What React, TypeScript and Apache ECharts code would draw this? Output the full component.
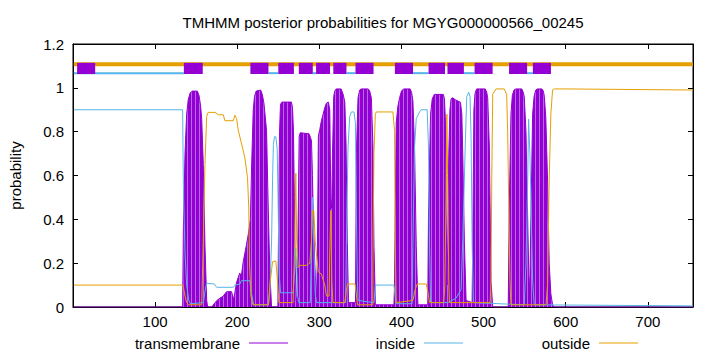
import React, { useEffect, useRef } from "react";
import * as echarts from "echarts";

const FONT = "'Liberation Sans', Arial, sans-serif";
const chartTitle = "TMHMM posterior probabilities for MGYG000000566_00245";
const yAxisName = "probability";
const seqLength = 755;
const xTickInterval = 100;
const yMax = 1.2;
const yTickInterval = 0.2;

const legendNames = ["transmembrane", "inside", "outside"];
const colTM = "#9400D3";
const colTMStripe = "#b46ae6";
const colIn = "#56B4E9";
const colOut = "#E69F00";

// posterior probability of transmembrane (residue, probability)
const transmembrane: number[][] = [
  [1, 0], [133.5, 0], [134.4, 0.36], [136.4, 0.7], [138.4, 0.88], [140.3, 0.945], [142.5, 0.975], [145, 0.985], [151.5, 0.985],
  [153.5, 0.965], [155.3, 0.92], [156.7, 0.86], [158.7, 0.65], [160.7, 0.28], [162.8, 0.03], [164, 0], [169, 0], [172.9, 0.02],
  [176.9, 0.035], [183, 0.05], [187, 0.07], [193, 0.07], [195.8, 0.035], [199, 0.11], [203, 0.155], [205, 0.14],
  [207, 0.2], [211, 0.28], [213.6, 0.335], [216, 0.4], [217.6, 0.66], [219.5, 0.9], [221, 0.96], [223, 0.985], [228.5, 0.99],
  [230.5, 0.97], [232.5, 0.93], [235.7, 0.805], [237.7, 0.46], [239.7, 0.16], [241.8, 0], [249.5, 0], [250.5, 0.45], [251.5, 0.8],
  [252.7, 0.925], [254.5, 0.935], [266, 0.935], [267.3, 0.91], [268.5, 0.8], [269.5, 0.5], [270.5, 0.2], [271.8, 0.03], [273, 0.05], [274.2, 0.4],
  [275.4, 0.78], [276.8, 0.795], [287.5, 0.79], [290.4, 0.76], [291.6, 0.6], [292.4, 0.45], [294.4, 0.2], [296.5, 0.03], [297.5, 0.2],
  [298.8, 0.78], [300.5, 0.81], [302.5, 0.85], [304.6, 0.88], [306.6, 0.91], [308.6, 0.93], [311, 0.935], [312.7, 0.9],
  [313.9, 0.5], [315, 0.45], [316, 0.7], [317.5, 0.96], [318.7, 0.985], [320.5, 0.995], [326.5, 0.995], [329, 0.97],
  [331, 0.935], [332.5, 0.75], [334, 0.3], [335.5, 0.02], [344, 0.02], [345.1, 0.7], [347.1, 0.955], [349.1, 0.99], [351, 0.995],
  [359.5, 0.995], [361.3, 0.985], [363.3, 0.955], [365.3, 0.73], [366.5, 0.28], [368.2, 0.01], [390.8, 0.01], [391.6, 0.1], [392.4, 0.42],
  [393.6, 0.84], [395.6, 0.915], [397.7, 0.955], [400, 0.985], [402.5, 0.995], [410.5, 0.995], [412.3, 0.98], [413.9, 0.94], [415.9, 0.73], [418, 0.28],
  [420, 0.01], [432, 0.01], [432.9, 0.42], [435.4, 0.88], [437.5, 0.95], [440, 0.97], [451, 0.97], [452.3, 0.95], [453.5, 0.85],
  [454.4, 0.42], [455.5, 0.1], [456.4, 0.3], [457.6, 0.7], [459, 0.9], [460.4, 0.95], [462, 0.955], [466, 0.945], [471.8, 0.934],
  [473.5, 0.88], [474.6, 0.7], [476.6, 0.3], [478.7, 0.03], [486, 0.02], [486.8, 0.3], [488.2, 0.9], [489.6, 0.975], [491.5, 0.995], [502, 0.995],
  [503.8, 0.98], [505, 0.955], [507, 0.73], [509, 0.12], [511.1, 0], [530, 0], [531.3, 0.46], [533.3, 0.88], [535, 0.965], [537, 0.99],
  [539.4, 0.995], [546.5, 0.995], [548.3, 0.98], [549.5, 0.96], [551.6, 0.8], [553.6, 0.42], [555, 0.15], [556.2, 0.08], [557.6, 0.4],
  [559.7, 0.88], [561.5, 0.96], [563.5, 0.99], [565.7, 0.995], [571, 0.995], [572.8, 0.985], [574, 0.96], [575.8, 0.86], [577.9, 0.58], [579.9, 0.2],
  [581.9, 0.06], [584, 0.01], [586, 0], [755, 0],
];

// posterior probability of inside
const inside: number[][] = [
  [1, 0.9], [133.5, 0.9], [134.4, 0.55], [136.4, 0.25], [138.4, 0.1], [141, 0.03], [143, 0.015], [158.7, 0.02],
  [160.7, 0.07], [162.8, 0.108], [172, 0.105], [174.9, 0.09], [195.2, 0.09], [197.2, 0.1], [203.3, 0.105], [205, 0.12],
  [215.4, 0.12], [217.5, 0.06], [220, 0.01], [238, 0.01], [239.7, 0.07], [241.8, 0.3], [243, 0.58], [244, 0.74],
  [245.4, 0.777], [247, 0.777], [248.7, 0.72], [249.9, 0.45], [251.1, 0.15], [252.7, 0.065], [268.1, 0.065], [270.1, 0.18],
  [271.3, 0.27], [272.2, 0.2], [273.5, 0.05], [275, 0.02], [289, 0.02], [290.4, 0.3], [291.6, 0.5], [292.4, 0.5],
  [293.5, 0.25], [295, 0.06], [296.5, 0.02], [332, 0.02], [332.9, 0.28], [334.9, 0.73], [337, 0.87], [339, 0.89],
  [342.2, 0.89], [343.9, 0.84], [345.1, 0.42], [346.3, 0.12], [347.1, 0.03], [366.5, 0.02], [368.2, 0.1], [390.8, 0.1],
  [392.4, 0.05], [393.6, 0.015], [412.9, 0.015], [413.9, 0.28], [415.9, 0.73], [418, 0.86], [422, 0.89], [424, 0.9],
  [431.3, 0.9], [432.9, 0.73], [434.2, 0.28], [435.4, 0.02], [456.4, 0.02], [466.5, 0.04], [472.6, 0.08], [474.6, 0.3],
  [477.9, 0.77], [479.5, 0.96], [481.9, 0.98], [483.5, 0.96], [484.8, 0.77], [486, 0.3], [487.6, 0.02], [549.5, 0.01],
  [551.6, 0.2], [553.6, 0.55], [554.8, 0.857], [556.4, 0.7], [557.6, 0.5], [559.7, 0.12], [561.7, 0.01], [755, 0.005],
];

// posterior probability of outside
const outside: number[][] = [
  [1, 0.1], [133.5, 0.1], [134.4, 0.09], [136.4, 0.05], [138.4, 0.02], [141, 0.01], [156.7, 0.01], [158.7, 0.3],
  [160.7, 0.65], [162.8, 0.87], [164.5, 0.888], [172.9, 0.888], [177, 0.877], [183, 0.877], [185, 0.85], [195.2, 0.85],
  [197.2, 0.875], [199.2, 0.86], [201.3, 0.805], [205.3, 0.744], [209.3, 0.68], [212.5, 0.59], [214, 0.456], [215, 0.2],
  [216.6, 0.05], [219, 0.01], [238, 0.01], [239.7, 0.1], [243, 0.206], [247, 0.21], [249, 0.12], [250.7, 0.02],
  [268, 0.02], [270.1, 0.3], [271.3, 0.61], [272.5, 0.3], [274.2, 0.18], [276.2, 0.19], [284.3, 0.19], [288.4, 0.2],
  [290.4, 0.3], [291.6, 0.44], [293.2, 0.44], [295, 0.3], [298.6, 0.16], [302.5, 0.15], [306.6, 0.1], [308.6, 0.05],
  [311.8, 0.05], [313, 0.3], [313.9, 0.44], [315.2, 0.12], [316.5, 0.02], [331, 0.02], [333, 0.08], [334.5, 0.105],
  [343.5, 0.105], [345, 0.06], [346.5, 0.01], [365, 0.01], [365.3, 0.25], [366.5, 0.7], [368.2, 0.88], [369.4, 0.89],
  [389.6, 0.89], [391.6, 0.8], [392.4, 0.3], [393.6, 0.02], [413.9, 0.03], [416.7, 0.08], [419.2, 0.105], [430.1, 0.105],
  [432.1, 0.07], [434.2, 0.02], [451.5, 0.02], [452.8, 0.1], [454.4, 0.55], [455.3, 0.88], [456.2, 0.6], [457.6, 0.12],
  [458.4, 0.02], [508, 0.02], [509, 0.12], [510, 0.6], [511.1, 0.97], [515.1, 0.995], [525.2, 0.995], [528.1, 0.97],
  [529.3, 0.8], [530.5, 0.5], [532.1, 0.12], [533.3, 0.01], [576, 0.01], [577.9, 0.1], [579.9, 0.58], [581.9, 0.88],
  [584, 0.99], [586, 0.995], [600, 0.995], [755, 0.99],
];

// predicted topology (top track)
const tmSegments: number[][] = [
  [5, 27], [135, 158], [216, 238], [250, 269], [275, 292], [296, 313], [317, 333],
  [344, 366], [392, 414], [433, 453], [456, 476], [489, 511], [531, 553], [560, 582],
];
const insideSegments: number[][] = [
  [1, 135], [238, 250], [292, 296], [333, 344], [414, 433], [476, 489], [553, 560],
];
const outsideSpan: number[][] = [[1, 1.108], [755, 1.108]];
const insideLevel = 1.067;
const boxTop = 1.114;
const boxBottom = 1.063;

function makeStripePattern(): any {
  const c = document.createElement("canvas");
  c.width = 4;
  c.height = 4;
  const ctx = c.getContext("2d")!;
  ctx.fillStyle = colTM;
  ctx.fillRect(0, 0, 4, 4);
  ctx.fillStyle = colTMStripe;
  ctx.fillRect(3, 0, 1, 4);
  return { image: c, repeat: "repeat", imageWidth: 4, imageHeight: 4 };
}

export default function App() {
  const ref = useRef<HTMLDivElement>(null);
  useEffect(() => {
    const chart = echarts.init(ref.current!, null, { renderer: "svg" });
    const axisCommon = {
      type: "value" as const,
      axisLine: { show: true, onZero: false, lineStyle: { color: "#000", width: 1 } },
      axisTick: { show: true, inside: true, length: 5, lineStyle: { color: "#000" } },
      splitLine: { show: false },
    };
    const legendY = 343;
    const legendTextRight = [240, 415, 590];
    const legendColors = [colTM, colIn, colOut];
    const graphics: any[] = [];
    legendNames.forEach((n, i) => {
      graphics.push({
        type: "text",
        x: legendTextRight[i],
        y: legendY,
        style: { text: n, fill: "#000", font: `15px ${FONT}`, textAlign: "right", textVerticalAlign: "middle" },
      });
      graphics.push({
        type: "line",
        shape: { x1: legendTextRight[i] + 9, y1: legendY, x2: legendTextRight[i] + 48, y2: legendY },
        style: { stroke: legendColors[i], lineWidth: 1 },
      });
    });
    graphics.push({
      type: "text",
      x: 383,
      y: 22,
      style: { text: chartTitle, fill: "#000", font: `15px ${FONT}`, textAlign: "center", textVerticalAlign: "middle" },
    });
    let areaColor: any = colTM;
    try {
      areaColor = makeStripePattern();
    } catch (e) {
      areaColor = colTM;
    }
    chart.setOption({
      animation: false,
      backgroundColor: "#fff",
      grid: { left: 73, right: 27, top: 44, bottom: 45, show: true, borderColor: "#000", borderWidth: 1 },
      xAxis: [
        {
          ...axisCommon,
          position: "bottom",
          min: 0,
          max: seqLength,
          interval: xTickInterval,
          axisLabel: { showMinLabel: false, showMaxLabel: false, color: "#000", fontSize: 15, fontFamily: FONT, margin: 7 },
        },
        {
          ...axisCommon,
          position: "top",
          min: 0,
          max: seqLength,
          interval: xTickInterval,
          axisLabel: { show: false },
        },
      ],
      yAxis: [
        {
          ...axisCommon,
          position: "left",
          min: 0,
          max: yMax,
          interval: yTickInterval,
          name: yAxisName,
          nameLocation: "middle",
          nameGap: 50,
          nameTextStyle: { color: "#000", fontSize: 15, fontFamily: FONT },
          axisLabel: { color: "#000", fontSize: 15, fontFamily: FONT, margin: 9 },
        },
        {
          ...axisCommon,
          position: "right",
          min: 0,
          max: yMax,
          interval: yTickInterval,
          axisLabel: { show: false },
        },
      ],
      series: [
        {
          name: legendNames[0],
          type: "line",
          data: transmembrane,
          symbol: "none",
          lineStyle: { color: colTM, width: 1 },
          areaStyle: { color: areaColor, opacity: 1 },
          z: 1,
        },
        {
          name: legendNames[1],
          type: "line",
          data: inside,
          symbol: "none",
          lineStyle: { color: colIn, width: 1 },
          z: 2,
        },
        {
          name: legendNames[2],
          type: "line",
          data: outside,
          symbol: "none",
          lineStyle: { color: colOut, width: 1 },
          z: 3,
        },
        {
          type: "line",
          data: outsideSpan,
          symbol: "none",
          lineStyle: { color: colOut, width: 4 },
          z: 4,
        },
        {
          type: "custom",
          data: insideSegments.map((s) => [s[0], s[1], insideLevel]),
          encode: { x: [0, 1], y: 2 },
          z: 5,
          renderItem: (params: any, api: any) => {
            const a = api.coord([api.value(0), api.value(2)]);
            const b = api.coord([api.value(1), api.value(2)]);
            return {
              type: "line",
              shape: { x1: a[0], y1: a[1], x2: b[0], y2: b[1] },
              style: { stroke: colIn, lineWidth: 2 },
            };
          },
        },
        {
          type: "custom",
          data: tmSegments.map((s) => [s[0], s[1], boxTop, boxBottom]),
          encode: { x: [0, 1], y: [2, 3] },
          z: 6,
          renderItem: (params: any, api: any) => {
            const a = api.coord([api.value(0), api.value(2)]);
            const b = api.coord([api.value(1), api.value(3)]);
            return {
              type: "rect",
              shape: { x: a[0], y: a[1], width: b[0] - a[0], height: b[1] - a[1] },
              style: { fill: colTM },
            };
          },
        },
      ],
      graphic: graphics,
    });
    return () => chart.dispose();
  }, []);
  return <div ref={ref} style={{ width: 720, height: 352, position: "fixed", left: 0, top: 0 }} />;
}
